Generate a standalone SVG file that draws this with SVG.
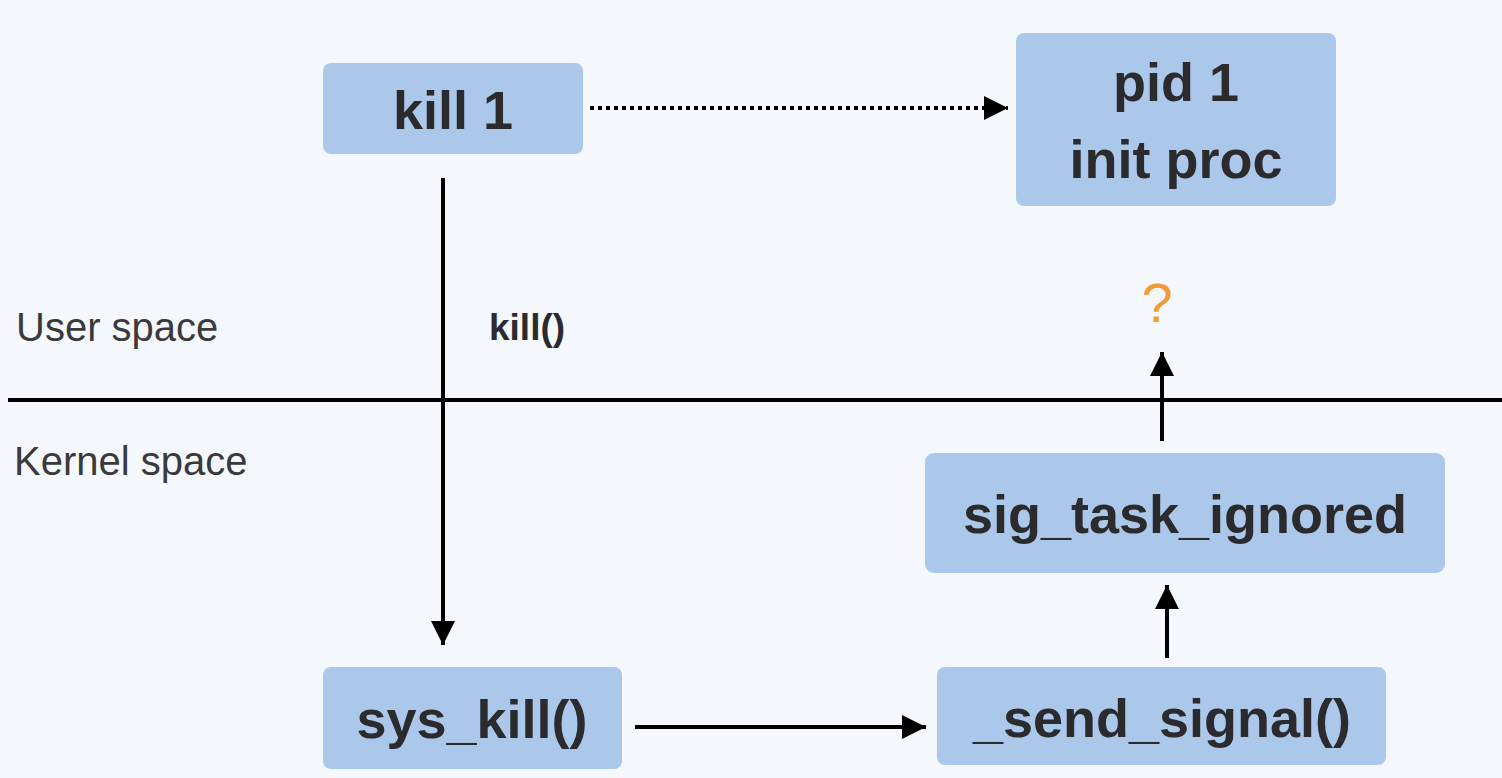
<svg xmlns="http://www.w3.org/2000/svg" width="1502" height="778" viewBox="0 0 1502 778">
<defs>
<style>
.box{fill:#abc7ea;}
.t{font-family:"Liberation Sans",Arial,sans-serif;font-weight:bold;fill:#2b2b2e;text-anchor:middle;font-size:54px;}
.lab{font-family:"Liberation Sans",Arial,sans-serif;fill:#3a3a3d;font-size:40px;}
.ln{stroke:#000;stroke-width:4;fill:none;}
</style>
<marker id="ah" viewBox="0 0 10 10" refX="10" refY="5" markerWidth="6" markerHeight="6" markerUnits="strokeWidth" orient="auto">
<path d="M0,0 L10,5 L0,10 z" fill="#000"/>
</marker>
</defs>
<rect width="1502" height="778" fill="#f4f7fc"/>
<g id="divider">
<line class="ln" x1="8" y1="400" x2="1502" y2="400"/>
<text class="lab" x="16" y="341">User space</text>
<text class="lab" x="14" y="475">Kernel space</text>
</g>
<g id="connectors">
<line class="ln" x1="590" y1="108" x2="1008" y2="108" stroke-width="5" stroke-dasharray="4 4" marker-end="url(#ah)"/>
<line class="ln" x1="443" y1="178" x2="443" y2="645" marker-end="url(#ah)"/>
<text x="489" y="340" font-family="Liberation Sans,Arial,sans-serif" font-weight="bold" font-size="37" fill="#2b2b2e">kill()</text>
<line class="ln" x1="635" y1="727" x2="926" y2="727" marker-end="url(#ah)"/>
<line class="ln" x1="1167" y1="658" x2="1167" y2="585" marker-end="url(#ah)"/>
<line class="ln" x1="1162" y1="441" x2="1162" y2="352" marker-end="url(#ah)"/>
<text x="1157" y="322" font-family="Liberation Sans,Arial,sans-serif" font-size="56" fill="#f09a38" text-anchor="middle">?</text>
</g>
<g id="kill1">
<rect class="box" x="323" y="63" width="260" height="91" rx="8"/>
<text class="t" x="453" y="129">kill 1</text>
</g>
<g id="pid1">
<rect class="box" x="1016" y="33" width="320" height="173" rx="8"/>
<text class="t" x="1176" y="101" font-size="56">pid 1</text>
<text class="t" x="1176" y="178" font-size="56">init proc</text>
</g>
<g id="sig_task_ignored">
<rect class="box" x="925" y="453" width="520" height="120" rx="9"/>
<text class="t" x="1185" y="533" font-size="55">sig_task_ignored</text>
</g>
<g id="sys_kill">
<rect class="box" x="323" y="667" width="299" height="102" rx="8"/>
<text class="t" x="472" y="738">sys_kill()</text>
</g>
<g id="send_signal">
<rect class="box" x="937" y="667" width="449" height="98" rx="8"/>
<text class="t" x="1162" y="737">_send_signal()</text>
</g>
</svg>
